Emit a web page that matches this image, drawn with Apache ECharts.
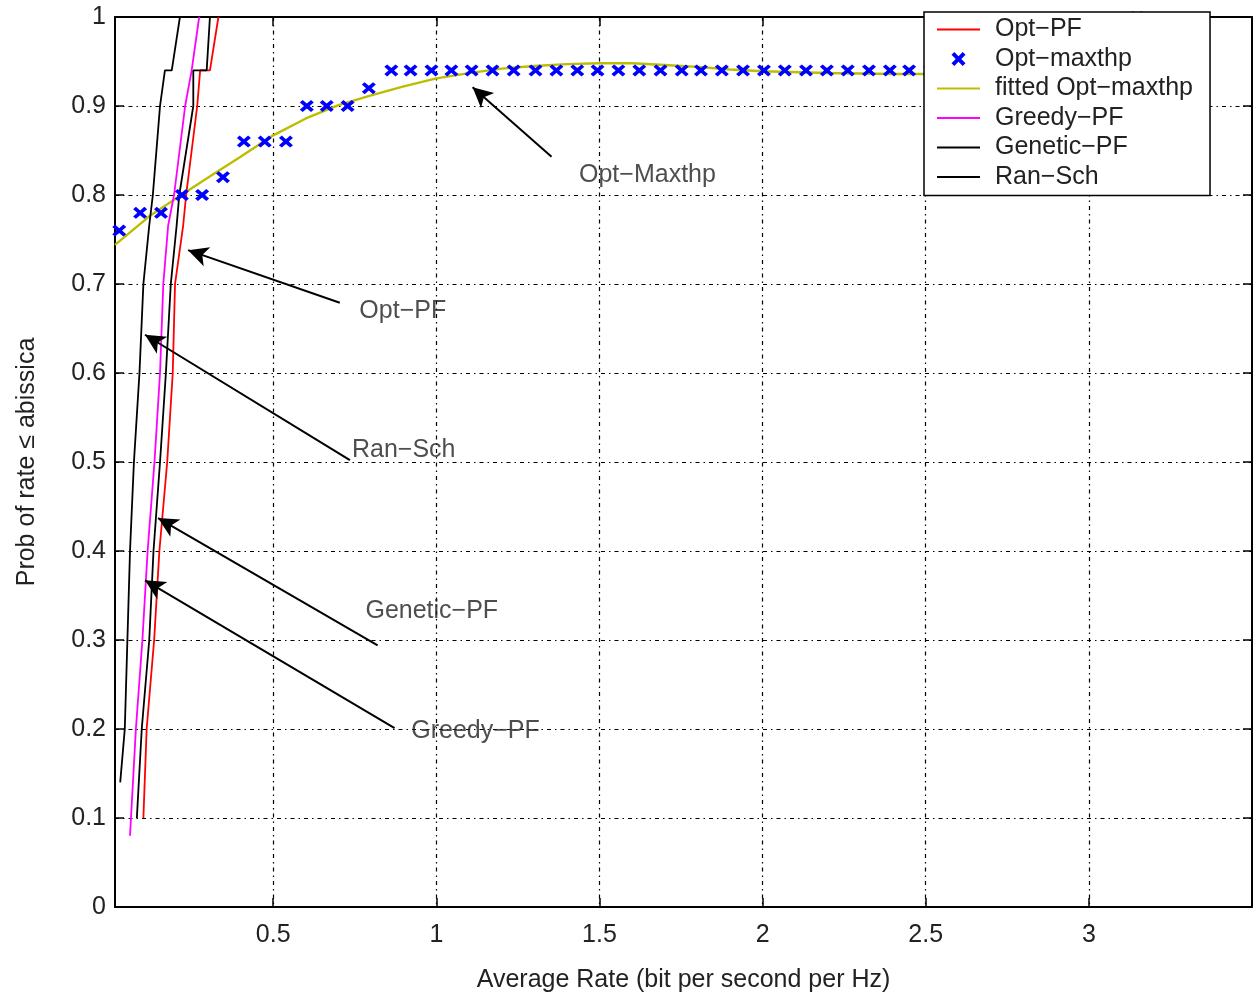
<!DOCTYPE html>
<html>
<head>
<meta charset="utf-8">
<title>CDF of average rate</title>
<script src="https://cdn.jsdelivr.net/npm/echarts@6/dist/echarts.min.js"></script>
<style>
html, body { margin: 0; padding: 0; background: #fff; }
#chart { width: 1255px; height: 992px; }
</style>
</head>
<body>
<div id="chart"></div>
<script>
var xTicks = [0.5, 1, 1.5, 2, 2.5, 3]

// step CDF curves, [rate, prob]
var optPF = [[0.102, 0.1], [0.112, 0.2], [0.135, 0.3], [0.151, 0.4], [0.175, 0.5], [0.192, 0.6], [0.199, 0.7], [0.224, 0.766], [0.233, 0.8], [0.267, 0.9], [0.276, 0.94], [0.306, 0.94], [0.332, 1.0]]
var greedyPF = [[0.061, 0.08], [0.064, 0.1], [0.079, 0.2], [0.099, 0.3], [0.115, 0.4], [0.136, 0.5], [0.153, 0.6], [0.163, 0.7], [0.178, 0.766], [0.196, 0.8], [0.230, 0.9], [0.250, 0.94], [0.273, 1.0]]
var geneticPF = [[0.082, 0.1], [0.097, 0.2], [0.120, 0.3], [0.133, 0.4], [0.153, 0.5], [0.171, 0.6], [0.186, 0.7], [0.204, 0.766], [0.212, 0.8], [0.255, 0.9], [0.255, 0.94], [0.296, 0.94], [0.306, 1.0]]
var ranSch = [[0.031, 0.14], [0.045, 0.2], [0.053, 0.3], [0.061, 0.4], [0.073, 0.5], [0.090, 0.6], [0.102, 0.7], [0.120, 0.766], [0.131, 0.8], [0.153, 0.9], [0.168, 0.94], [0.189, 0.94], [0.214, 1.0]]

// Opt-maxthp markers
var maxthpRate = [0.028, 0.092, 0.156, 0.220, 0.282, 0.346, 0.410, 0.474, 0.539, 0.603, 0.664, 0.728, 0.793, 0.862, 0.921, 0.985, 1.046, 1.108, 1.172, 1.237, 1.304, 1.368, 1.432, 1.494, 1.558, 1.622, 1.687, 1.752, 1.811, 1.875, 1.940, 2.004, 2.068, 2.133, 2.197, 2.261, 2.326, 2.390, 2.449, 2.513, 2.576, 2.640, 2.703, 2.767, 2.830, 2.894, 2.957, 3.021, 3.084, 3.148]
var maxthpProb = [0.76, 0.78, 0.78, 0.80, 0.80, 0.82, 0.86, 0.86, 0.86, 0.90, 0.90, 0.90, 0.92, 0.94, 0.94, 0.94, 0.94, 0.94, 0.94, 0.94, 0.94, 0.94, 0.94, 0.94, 0.94, 0.94, 0.94, 0.94, 0.94, 0.94, 0.94, 0.94, 0.94, 0.94, 0.94, 0.94, 0.94, 0.94, 0.94, 0.94, 0.94, 0.94, 0.94, 0.94, 0.94, 0.94, 0.94, 0.94, 0.94, 1.0]

// fitted curve
var fitRate = [0.015, 0.12, 0.21, 0.31, 0.4, 0.5, 0.6, 0.7, 0.8, 0.9, 1.0, 1.1, 1.2, 1.3, 1.4, 1.5, 1.6, 1.7, 1.8, 1.9, 2.0, 2.2, 2.4, 2.6, 2.8, 3.0, 3.15]
var fitProb = [0.744, 0.776, 0.798, 0.822, 0.843, 0.867, 0.886, 0.901, 0.912, 0.922, 0.931, 0.937, 0.942, 0.945, 0.947, 0.948, 0.948, 0.946, 0.944, 0.941, 0.939, 0.937, 0.936, 0.936, 0.936, 0.936, 0.936]

// annotations: text position, arrow start, arrow tip
var noteText = ['Opt−Maxthp', 'Opt−PF', 'Ran−Sch', 'Genetic−PF', 'Greedy−PF']
var notePos = [[1.647, 0.822], [0.897, 0.670], [0.900, 0.513], [0.986, 0.333], [1.120, 0.198]]
var arrowFrom = [[1.353, 0.843], [0.704, 0.679], [0.735, 0.502], [0.820, 0.294], [0.872, 0.201]]
var arrowTo = [[1.111, 0.921], [0.239, 0.738], [0.107, 0.643], [0.147, 0.437], [0.107, 0.367]]

var font = '"Liberation Sans", Arial, sans-serif'
var fs = 25
var crossPath = 'path://M0,2L2,0L5,3L8,0L10,2L7,5L10,8L8,10L5,7L2,10L0,8L3,5Z'
var gridLine = { show: true, lineStyle: { color: '#000', width: 1.2, type: [4, 4, 1.5, 4] } }
var noSymbol = { opacity: 0 }

function zip(a, b) {
  return a.map(function (v, i) { return [v, b[i]] })
}

var chart = echarts.init(document.getElementById('chart'))

var option = {
  animation: false,
  backgroundColor: '#fff',
  grid: { left: 115, right: 3, top: 17, bottom: 85, outerBoundsMode: 'none', containLabel: false },
  legend: {
    orient: 'vertical',
    left: 924,
    top: 12,
    padding: [5, 17, 6, 12],
    itemGap: 4.5,
    itemWidth: 43,
    itemHeight: 14,
    backgroundColor: '#fff',
    borderColor: '#000',
    borderWidth: 1.5,
    textStyle: { fontSize: fs, lineHeight: 25, color: '#222', fontFamily: font, padding: [0, 0, 0, 10] },
    data: [
      { name: 'Opt−PF', itemStyle: noSymbol },
      { name: 'Opt−maxthp' },
      { name: 'fitted Opt−maxthp', itemStyle: noSymbol },
      { name: 'Greedy−PF', itemStyle: noSymbol },
      { name: 'Genetic−PF', itemStyle: noSymbol },
      { name: 'Ran−Sch', itemStyle: noSymbol }
    ]
  },
  xAxis: [{
    type: 'value',
    min: 0.015,
    max: 3.5,
    position: 'bottom',
    name: 'Average Rate (bit per second per Hz)',
    nameLocation: 'middle',
    nameGap: 61,
    nameTextStyle: { fontSize: fs, color: '#222', fontFamily: font },
    axisLine: { show: true, onZero: false, lineStyle: { color: '#000', width: 2 } },
    axisTick: { show: true, inside: true, length: 9, customValues: xTicks, lineStyle: { color: '#000', width: 1.5 } },
    axisLabel: { customValues: xTicks, fontSize: fs, color: '#222', fontFamily: font, margin: 16 },
    splitLine: gridLine
  }, {
    type: 'value',
    min: 0.015,
    max: 3.5,
    position: 'top',
    axisLine: { show: true, onZero: false, lineStyle: { color: '#000', width: 2 } },
    axisTick: { show: true, inside: true, length: 9, customValues: xTicks, lineStyle: { color: '#000', width: 1.5 } },
    axisLabel: { show: false },
    splitLine: { show: false }
  }],
  yAxis: [{
    type: 'value',
    min: 0,
    max: 1,
    interval: 0.1,
    position: 'left',
    name: 'Prob of rate ≤ abissica',
    nameLocation: 'middle',
    nameRotate: 90,
    nameGap: 75,
    nameTextStyle: { fontSize: fs, color: '#222', fontFamily: font },
    axisLine: { show: true, onZero: false, lineStyle: { color: '#000', width: 2 } },
    axisTick: { show: true, inside: true, length: 9, lineStyle: { color: '#000', width: 1.5 } },
    axisLabel: { fontSize: fs, color: '#222', fontFamily: font, margin: 9 },
    splitLine: gridLine
  }, {
    type: 'value',
    min: 0,
    max: 1,
    interval: 0.1,
    position: 'right',
    axisLine: { show: true, onZero: false, lineStyle: { color: '#000', width: 2 } },
    axisTick: { show: true, inside: true, length: 9, lineStyle: { color: '#000', width: 1.5 } },
    axisLabel: { show: false },
    splitLine: { show: false }
  }],
  series: [
    {
      name: 'Opt−PF',
      type: 'line',
      data: optPF,
      symbol: 'none',
      color: '#ff0000',
      lineStyle: { color: '#ff0000', width: 1.8 }
    },
    {
      name: 'Opt−maxthp',
      type: 'scatter',
      data: zip(maxthpRate, maxthpProb),
      symbol: crossPath,
      symbolSize: [14, 12],
      symbolKeepAspect: true,
      color: '#0000ff',
      itemStyle: { color: '#0000ff', opacity: 1 },
      z: 3
    },
    {
      name: 'fitted Opt−maxthp',
      type: 'line',
      data: zip(fitRate, fitProb),
      symbol: 'none',
      color: '#bdbd00',
      lineStyle: { color: '#bdbd00', width: 2.4 }
    },
    {
      name: 'Greedy−PF',
      type: 'line',
      data: greedyPF,
      symbol: 'none',
      color: '#ff00ff',
      lineStyle: { color: '#ff00ff', width: 1.8 }
    },
    {
      name: 'Genetic−PF',
      type: 'line',
      data: geneticPF,
      symbol: 'none',
      color: '#000',
      lineStyle: { color: '#000', width: 1.8 }
    },
    {
      name: 'Ran−Sch',
      type: 'line',
      data: ranSch,
      symbol: 'none',
      color: '#000',
      lineStyle: { color: '#000', width: 1.8 }
    },
    {
      name: 'notes',
      type: 'scatter',
      symbolSize: 0,
      silent: true,
      data: noteText.map(function (t, i) { return { name: t, value: notePos[i] } }),
      label: {
        show: true,
        position: 'inside',
        formatter: '{b}',
        fontSize: fs,
        color: '#222',
        fontFamily: font
      },
      markLine: {
        silent: true,
        symbol: ['none', 'arrow'],
        symbolSize: [15, 20],
        label: { show: false },
        lineStyle: { color: '#000', width: 2, type: 'solid' },
        data: arrowFrom.map(function (p, i) {
          return [{ coord: p }, { coord: arrowTo[i] }]
        })
      }
    }
  ]
}

chart.setOption(option)
</script>
</body>
</html>
